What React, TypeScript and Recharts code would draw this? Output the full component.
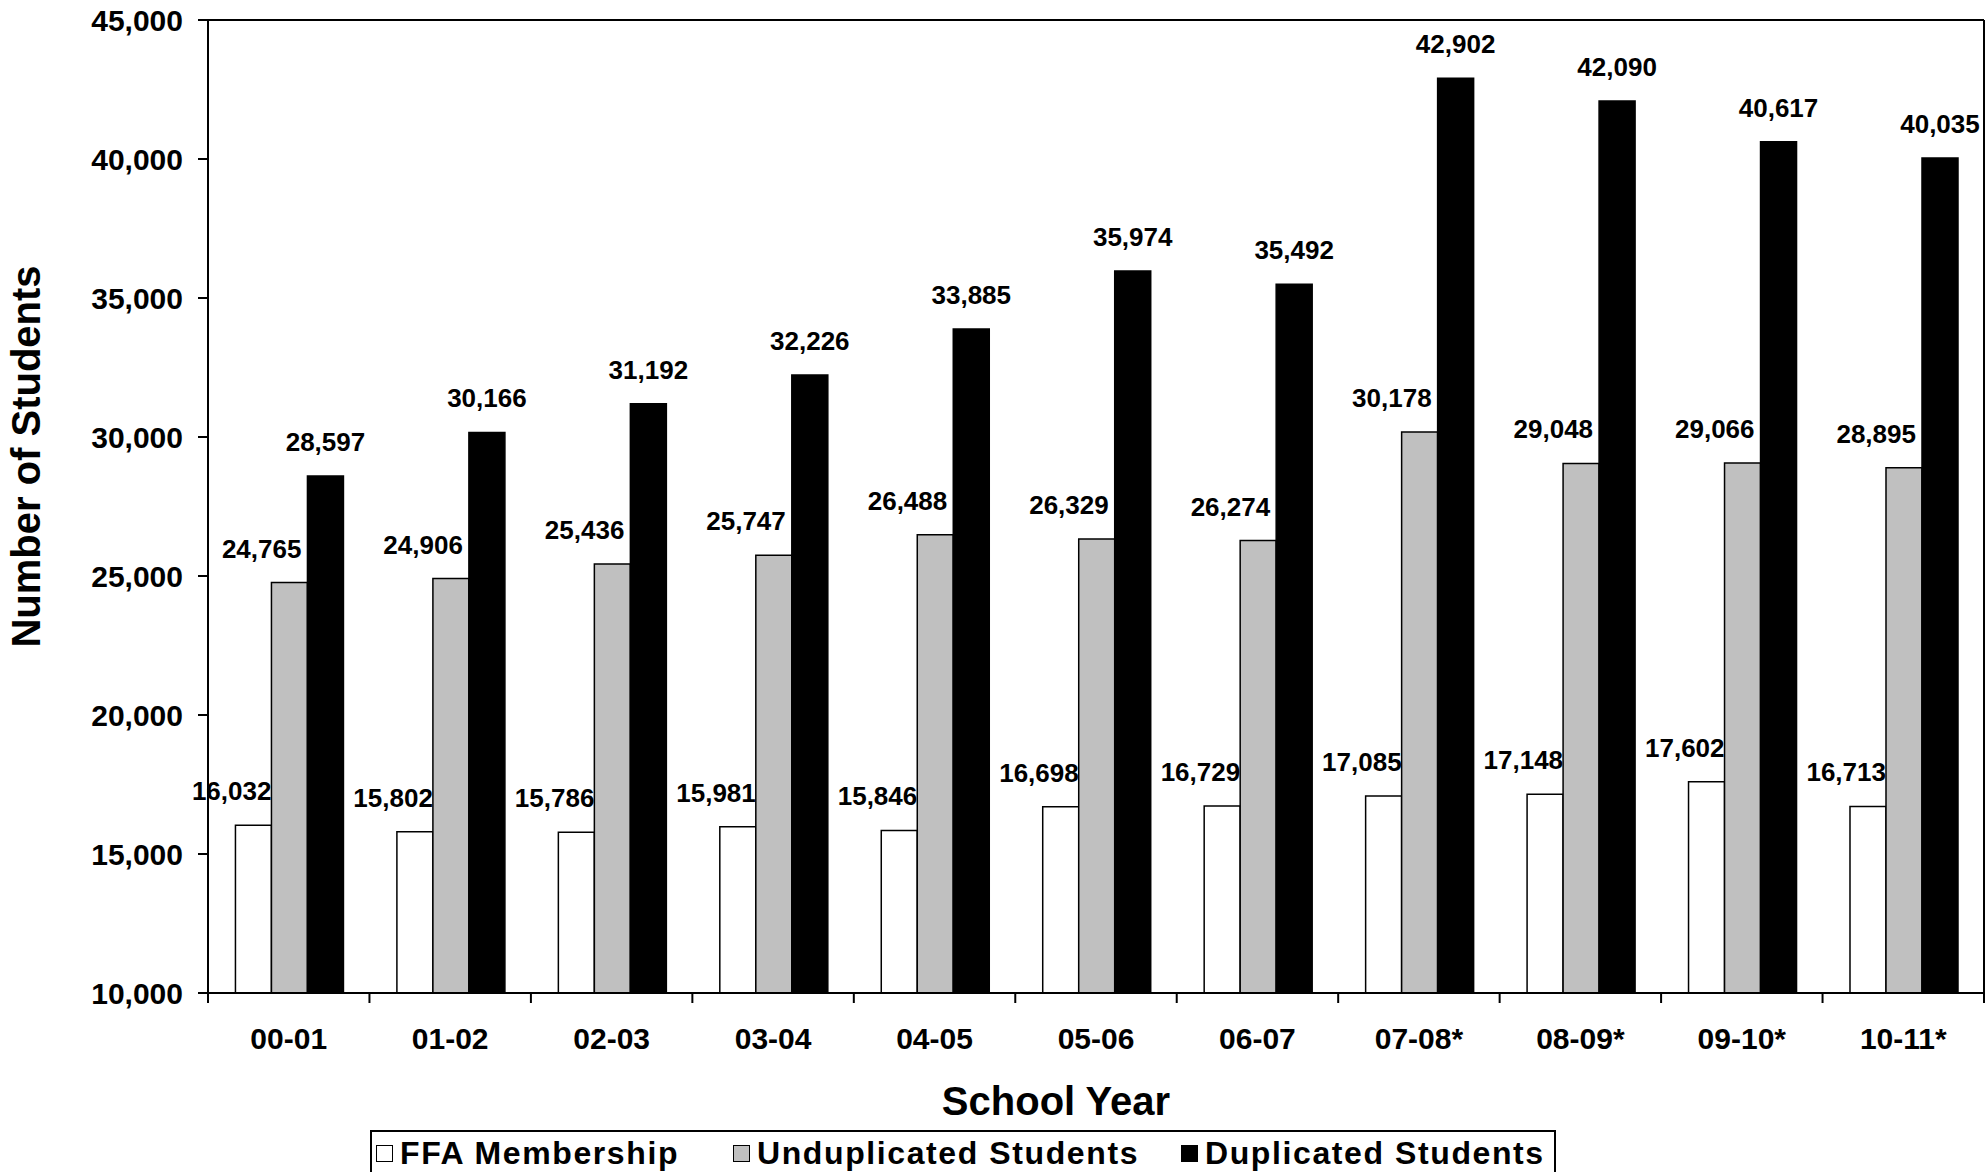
import React from 'react';
import {
  BarChart,
  Bar,
  XAxis,
  YAxis,
  Legend,
  LabelList,
  ReferenceLine,
} from 'recharts';

const schoolYears = ['00-01', '01-02', '02-03', '03-04', '04-05', '05-06', '06-07', '07-08*', '08-09*', '09-10*', '10-11*'];
const ffaMembership = [16032, 15802, 15786, 15981, 15846, 16698, 16729, 17085, 17148, 17602, 16713];
const unduplicated = [24765, 24906, 25436, 25747, 26488, 26329, 26274, 30178, 29048, 29066, 28895];
const duplicated = [28597, 30166, 31192, 32226, 33885, 35974, 35492, 42902, 42090, 40617, 40035];
const yTicks = [10000, 15000, 20000, 25000, 30000, 35000, 40000, 45000];

const rows = schoolYears.map((year, i) => ({
  year,
  ffa: ffaMembership[i],
  undup: unduplicated[i],
  dup: duplicated[i],
}));

const FONT = '"Liberation Sans", Arial, Helvetica, sans-serif';
const fmt = (v: number) => v.toLocaleString('en-US');

const legendItems = [
  { label: 'FFA Membership', fill: '#ffffff', width: 357 },
  { label: 'Unduplicated Students', fill: '#c0c0c0', width: 448 },
  { label: 'Duplicated Students', fill: '#000000', width: 0 },
];

// Excel-style value labels: white/grey pushed left, black centred
function makeLabel(mode: 'left' | 'grey' | 'center') {
  return (props: any) => {
    const vb = props.viewBox || props;
    const x = Number(vb.x);
    const y = Number(vb.y);
    const w = Number(vb.width);
    let tx = x + w / 2;
    let anchor: 'middle' | 'end' = 'middle';
    if (mode === 'left') {
      tx = x + w;
      anchor = 'end';
    } else if (mode === 'grey') {
      tx = x + w - 6;
      anchor = 'end';
    }
    return (
      <text
        x={tx}
        y={y - 25}
        textAnchor={anchor}
        fontFamily={FONT}
        fontWeight="bold"
        fontSize={26}
        fill="#000"
      >
        {fmt(Number(props.value))}
      </text>
    );
  };
}

// category label, with tick marks on the category boundaries (Excel style)
function YearTick(props: any) {
  const { x, y, payload, width, visibleTicksCount, index } = props;
  const band = Number(width) / Number(visibleTicksCount);
  const axisY = Number(props.y) - 35;
  const left = Number(x) - band / 2;
  return (
    <g>
      <line x1={left} x2={left} y1={axisY} y2={axisY + 10} stroke="#000" strokeWidth={2} />
      {index === visibleTicksCount - 1 && (
        <line x1={left + band} x2={left + band} y1={axisY} y2={axisY + 10} stroke="#000" strokeWidth={2} />
      )}
      <text
        x={x}
        y={y}
        dy={21}
        textAnchor="middle"
        fontFamily={FONT}
        fontWeight="bold"
        fontSize={30}
        fill="#000"
      >
        {payload.value}
      </text>
    </g>
  );
}

function LegendBox() {
  return (
    <div
      style={{
        boxSizing: 'border-box',
        width: 1186,
        height: 60,
        border: '2px solid #000',
        paddingTop: 5,
        paddingLeft: 4,
        display: 'flex',
        alignItems: 'flex-start',
        fontFamily: FONT,
        fontWeight: 'bold',
        fontSize: 32,
        lineHeight: '32px',
        letterSpacing: 1.6,
        color: '#000',
        background: '#fff',
      }}
    >
      {legendItems.map((it) => (
        <div
          key={it.label}
          style={{
            display: 'flex',
            alignItems: 'center',
            height: 32,
            width: it.width || undefined,
            whiteSpace: 'nowrap',
          }}
        >
          <span
            style={{
              display: 'inline-block',
              boxSizing: 'border-box',
              width: 17,
              height: 17,
              border: '1.5px solid #000',
              background: it.fill,
              marginRight: 7,
            }}
          />
          {it.label}
        </div>
      ))}
    </div>
  );
}

const tickStyle = { fontFamily: FONT, fontWeight: 'bold', fontSize: 30, fill: '#000' };

export default function App() {
  return (
    <div style={{ position: 'absolute', left: 0, top: 0, width: 1987, height: 1172, background: '#fff' }}>
      <BarChart
        width={1987}
        height={1172}
        data={rows}
        margin={{ top: 20, right: 3, left: 8, bottom: 49 }}
        barCategoryGap="17%"
        barGap={0}
      >
        <XAxis
          dataKey="year"
          tickLine={false}
          tickSize={0}
          tickMargin={35}
          interval={0}
          height={130}
          axisLine={{ stroke: '#000', strokeWidth: 2 }}
          tick={<YearTick />}
          label={{
            content: (p: any) => {
              const vb = p.viewBox;
              return (
                <text
                  x={vb.x + vb.width / 2 - 40}
                  y={1115}
                  textAnchor="middle"
                  fontFamily={FONT}
                  fontWeight="bold"
                  fontSize={40}
                  fill="#000"
                >
                  School Year
                </text>
              );
            },
          }}
        />
        <YAxis
          width={200}
          domain={[10000, 45000]}
          ticks={yTicks}
          allowDataOverflow
          tickFormatter={fmt}
          tickSize={10}
          tickMargin={15}
          tickLine={{ stroke: '#000', strokeWidth: 2 }}
          axisLine={{ stroke: '#000', strokeWidth: 2 }}
          tick={tickStyle}
          label={{
            content: (p: any) => {
              const vb = p.viewBox;
              const cx = 40;
              const cy = vb.y + vb.height / 2 - 50;
              return (
                <text
                  x={cx}
                  y={cy}
                  transform={`rotate(-90, ${cx}, ${cy})`}
                  textAnchor="middle"
                  fontFamily={FONT}
                  fontWeight="bold"
                  fontSize={40}
                  fill="#000"
                >
                  Number of Students
                </text>
              );
            },
          }}
        />
        <Legend
          layout="horizontal"
          verticalAlign="middle"
          align="center"
          content={() => <LegendBox />}
          wrapperStyle={{ position: 'absolute', left: 370, top: 1130, width: 1186, height: 60 }}
        />
        <ReferenceLine y={45000} stroke="#000" strokeWidth={2} ifOverflow="visible" />
        <ReferenceLine
          x={schoolYears[schoolYears.length - 1]}
          position="end"
          stroke="#000"
          strokeWidth={2}
          ifOverflow="visible"
        />
        <Bar dataKey="ffa" name="FFA Membership" fill="#ffffff" stroke="#000" strokeWidth={1.5} isAnimationActive={false}>
          <LabelList dataKey="ffa" content={makeLabel('left')} />
        </Bar>
        <Bar dataKey="undup" name="Unduplicated Students" fill="#c0c0c0" stroke="#000" strokeWidth={1.5} isAnimationActive={false}>
          <LabelList dataKey="undup" content={makeLabel('grey')} />
        </Bar>
        <Bar dataKey="dup" name="Duplicated Students" fill="#000000" stroke="#000" strokeWidth={1.5} isAnimationActive={false}>
          <LabelList dataKey="dup" content={makeLabel('center')} />
        </Bar>
      </BarChart>
    </div>
  );
}
